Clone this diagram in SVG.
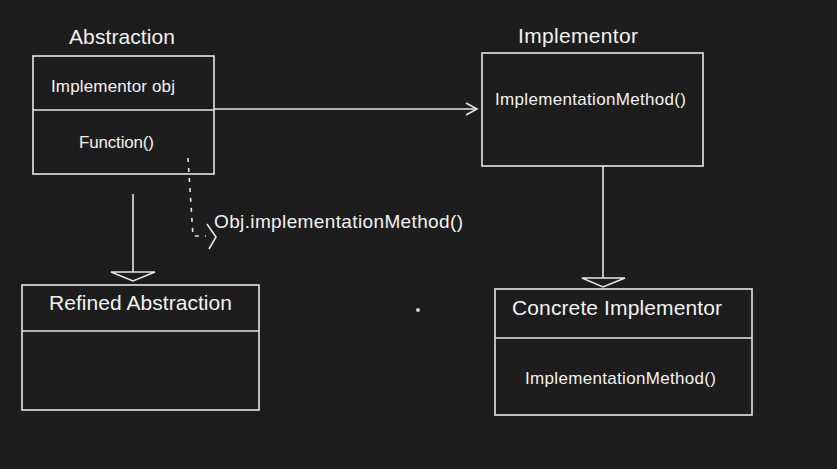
<svg xmlns="http://www.w3.org/2000/svg" width="837" height="469" viewBox="0 0 837 469">
<style>
.bg{fill:#1d1d1d}
.box{fill:none;stroke:#e6e6e6;stroke-width:1.6}
.ln{fill:none;stroke:#e6e6e6;stroke-width:1.6}
.dot{fill:none;stroke:#e6e6e6;stroke-width:1.6;stroke-dasharray:4 6}
.t{fill:#f2f2f2;font-family:"Liberation Sans","Open Sans",Arial,sans-serif}
.big{font-size:21px}
.sm{font-size:17px}
.md{font-size:19px}
</style>
<defs>
<marker id="open" markerWidth="14" markerHeight="14" refX="12" refY="7" orient="auto" markerUnits="userSpaceOnUse">
<path d="M1,1 L12,7 L1,13" fill="none" stroke="#e6e6e6" stroke-width="1.6"/>
</marker>
</defs>
<rect class="bg" x="0" y="0" width="837" height="469"/>

<g id="abstraction">
<text class="t big" x="122" y="44" text-anchor="middle" textLength="106">Abstraction</text>
<rect class="box" x="33" y="56" width="181" height="118"/>
<line class="ln" x1="33" y1="110" x2="214" y2="110"/>
<text class="t sm" x="51" y="92" textLength="124">Implementor obj</text>
<text class="t sm" x="79" y="148" textLength="75">Function()</text>
</g>

<g id="refined-abstraction">
<rect class="box" x="22" y="285" width="237" height="125"/>
<line class="ln" x1="22" y1="331" x2="259" y2="331"/>
<text class="t big" x="49" y="310" textLength="183">Refined Abstraction</text>
</g>

<g id="implementor">
<text class="t big" x="518" y="43" textLength="120">Implementor</text>
<rect class="box" x="482" y="53" width="221" height="113"/>
<text class="t sm" x="495" y="105" textLength="191">ImplementationMethod()</text>
</g>

<g id="concrete-implementor">
<rect class="box" x="495" y="289" width="257" height="126"/>
<line class="ln" x1="495" y1="338" x2="752" y2="338"/>
<text class="t big" x="512" y="315" textLength="210">Concrete Implementor</text>
<text class="t sm" x="525" y="384" textLength="191">ImplementationMethod()</text>
</g>

<g id="connectors">
<line class="ln" x1="214" y1="109" x2="477" y2="109" marker-end="url(#open)"/>
<line class="ln" x1="133" y1="194" x2="133" y2="272"/>
<path class="ln" d="M111,272 L155,272 L133,281 Z"/>
<line class="ln" x1="603" y1="166" x2="603" y2="278"/>
<path class="ln" d="M582,278 L625,278 L603,287 Z"/>
<path class="dot" d="M188,158 L193,236 L206,236"/>
<path class="ln" d="M207,224 L216,237 L209,249"/>
<text class="t md" x="214" y="228" textLength="249">Obj.implementationMethod()</text>
</g>

<circle cx="418" cy="310" r="2" fill="#cfcfcf"/>
</svg>
